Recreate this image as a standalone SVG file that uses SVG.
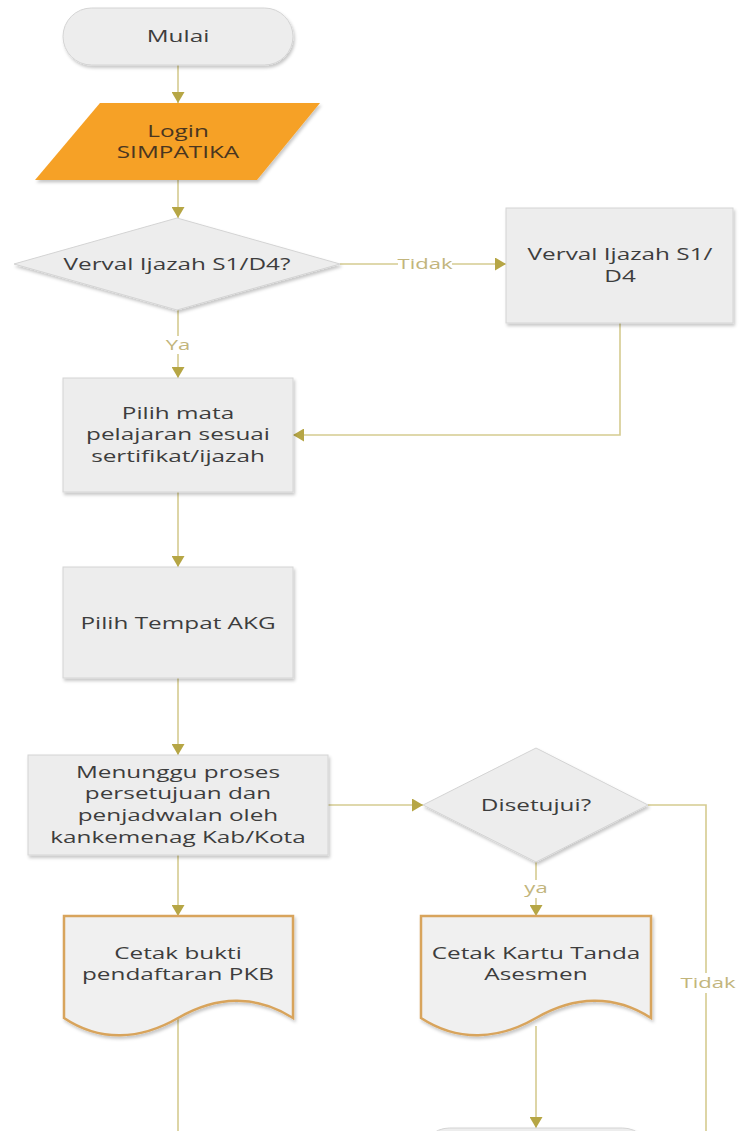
<svg xmlns="http://www.w3.org/2000/svg" width="746" height="1131" viewBox="0 0 746 1131">
<defs>
<filter id="sh" x="-10%" y="-10%" width="125%" height="130%">
<feDropShadow dx="1.5" dy="2.5" stdDeviation="1.5" flood-color="#000" flood-opacity="0.22"/>
</filter>
<marker id="ah" viewBox="0 0 11 13" refX="11" refY="6.5" markerWidth="11" markerHeight="13" markerUnits="userSpaceOnUse" orient="auto">
<path d="M0,0 L11,6.5 L0,13 z" fill="#B6A645"/>
</marker>
<style>
.t{font-family:"Open Sans","Noto Sans",sans-serif;font-size:16px;fill:#3d3d3d;text-anchor:middle}
.lt{fill:#4a3620}
.lbl{font-family:"Open Sans","Noto Sans",sans-serif;font-size:15px;fill:#C2B57C;text-anchor:middle}
.box{fill:#EDEDED;stroke:#D4D4D4;stroke-width:1;filter:url(#sh)}
.doc{fill:#F0F0F0;stroke:#D8A45C;stroke-width:2.5;filter:url(#sh)}
.c{fill:none;stroke:#D5CB90;stroke-width:1.6}
.a{marker-end:url(#ah)}
.bg{fill:#FFFFFF}
</style>
</defs>
<rect width="746" height="1131" fill="#FFFFFF"/>

<g id="connectors">
<path class="c a" d="M178,65 V103"/>
<path class="c a" d="M178,180 V218"/>
<path class="c a" d="M340,264 H506"/>
<path class="c a" d="M178,310 V378"/>
<path class="c a" d="M620,323 V435 H293"/>
<path class="c a" d="M178,492 V567"/>
<path class="c a" d="M178,678 V755"/>
<path class="c a" d="M328,805 H423"/>
<path class="c" d="M648,805 H706 V1131"/>
<path class="c a" d="M536,862 V916"/>
<path class="c a" d="M178,855 V916"/>
<path class="c" d="M178,1018 V1131"/>
<path class="c a" d="M536,1026 V1128"/>
<rect class="bg" x="398" y="255" width="54" height="18"/>
<text class="lbl" transform="translate(425,269) scale(1.47,1)">Tidak</text>
<rect class="bg" x="166" y="336" width="24" height="18"/>
<text class="lbl" transform="translate(178,350) scale(1.47,1)">Ya</text>
<rect class="bg" x="525" y="880" width="22" height="18"/>
<text class="lbl" transform="translate(536,893) scale(1.47,1)">ya</text>
<rect class="bg" x="679" y="973" width="58" height="20"/>
<text class="lbl" transform="translate(708,988) scale(1.47,1)">Tidak</text>
</g>

<g id="mulai">
<rect class="box" x="63" y="8" width="230" height="57" rx="28.5"/>
<text class="t" transform="translate(178,42) scale(1.52,1)">Mulai</text>
</g>

<g id="login">
<polygon points="100,103 320,103 257,180 35,180" fill="#F6A127" filter="url(#sh)"/>
<text class="t lt" transform="translate(178,136.5) scale(1.52,1)"><tspan x="0" dy="0">Login</tspan><tspan x="0" dy="22">SIMPATIKA</tspan></text>
</g>

<g id="verval-decision">
<polygon class="box" points="177,218 340,264 177,310 14,264"/>
<text class="t" transform="translate(177,269.5) scale(1.52,1)">Verval Ijazah S1/D4?</text>
</g>

<g id="verval-box">
<rect class="box" x="506" y="208" width="227" height="115"/>
<text class="t" transform="translate(620,260) scale(1.52,1)"><tspan x="0" dy="0">Verval Ijazah S1/</tspan><tspan x="0" dy="22">D4</tspan></text>
</g>

<g id="pilih-mapel">
<rect class="box" x="63" y="378" width="230" height="114"/>
<text class="t" transform="translate(178,418.5) scale(1.52,1)"><tspan x="0" dy="0">Pilih mata</tspan><tspan x="0" dy="22">pelajaran sesuai</tspan><tspan x="0" dy="22">sertifikat/ijazah</tspan></text>
</g>

<g id="pilih-tempat">
<rect class="box" x="63" y="567" width="230" height="111"/>
<text class="t" transform="translate(178,628.5) scale(1.52,1)">Pilih Tempat AKG</text>
</g>

<g id="menunggu">
<rect class="box" x="28" y="755" width="300" height="100"/>
<text class="t" transform="translate(178,777.5) scale(1.52,1)"><tspan x="0" dy="0">Menunggu proses</tspan><tspan x="0" dy="22">persetujuan dan</tspan><tspan x="0" dy="22">penjadwalan oleh</tspan><tspan x="0" dy="22">kankemenag Kab/Kota</tspan></text>
</g>

<g id="disetujui">
<polygon class="box" points="536,748 648,805 536,862 423,805"/>
<text class="t" transform="translate(536,810.5) scale(1.52,1)">Disetujui?</text>
</g>

<g id="cetak-bukti">
<path class="doc" d="M64,916 H293 V1018 C256,994 216,996 178,1018 C140,1040 100,1042 64,1018 Z"/>
<text class="t" transform="translate(178,958.5) scale(1.52,1)"><tspan x="0" dy="0">Cetak bukti</tspan><tspan x="0" dy="22">pendaftaran PKB</tspan></text>
</g>

<g id="cetak-kartu">
<path class="doc" d="M421,916 H651 V1018 C614,994 574,996 536,1018 C498,1040 458,1042 421,1018 Z"/>
<text class="t" transform="translate(536,958.5) scale(1.52,1)"><tspan x="0" dy="0">Cetak Kartu Tanda</tspan><tspan x="0" dy="22">Asesmen</tspan></text>
</g>

<g id="next-node">
<rect class="box" x="421" y="1128" width="230" height="57" rx="28.5"/>
</g>
</svg>
